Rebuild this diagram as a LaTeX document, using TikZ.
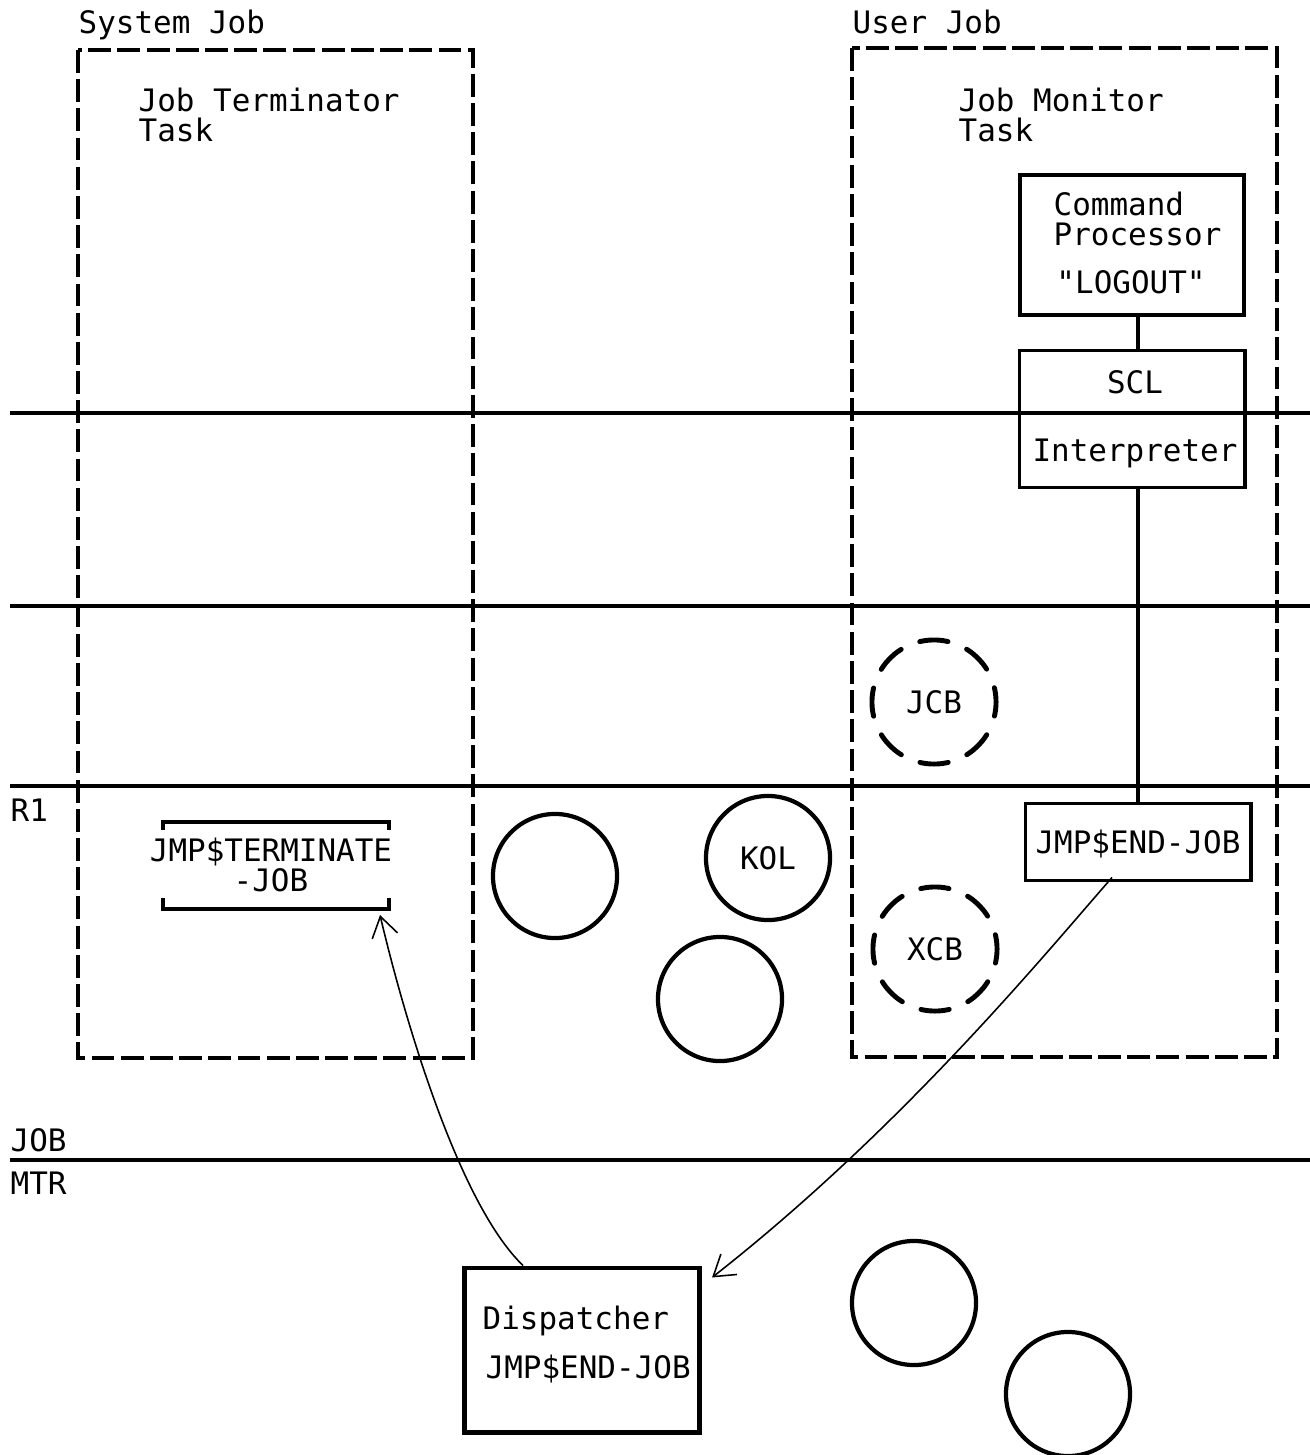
\documentclass[tikz,border=0pt]{standalone}
\usepackage{fontspec}
\newfontfamily\jobfont{DejaVu Sans Mono}
\usetikzlibrary{arrows.meta}

\tikzset{
  txt/.style={font=\jobfont\fontsize{8.8}{8.6}\selectfont, inner sep=0pt, text depth=0pt},
  jobframe/.style={line width=1.4pt, dash pattern=on 6.5pt off 1.8pt},
  level/.style={line width=1.1pt},
  procbox/.style={draw, txt, line width=1.1pt},
  cb/.style={draw, circle, txt, line width=1.2pt, minimum size=1.24cm},
  cbdash/.style={cb, line width=1.4pt, line cap=round, dash pattern=on 8.1pt off 5.75pt, dash phase=4pt},
  flow/.style={line width=0.45pt, -{Straight Barb[length=2mm, width=2.6mm]}}
}

\begin{document}
\begin{tikzpicture}[x=0.01cm, y=-0.01cm]
  \useasboundingbox (0,0) rectangle (1310,1455);

  % levels
  \foreach \yy in {413,606,786,1160}
    \draw[level] (10,\yy) -- (1310,\yy);
  \node[txt, anchor=west] (rone) at (10,810) {R1};
  \node[txt, anchor=west] (jobl) at (10,1140) {JOB};
  \node[txt, anchor=west] (mtrl) at (10,1183) {MTR};

  % system job
  \node[txt, anchor=west] (sysjob) at (78,22) {System Job};
  \draw[jobframe] (78,50) rectangle (473,1058);
  \node[txt, anchor=west, align=left] (termtask) at (138,115) {Job Terminator\\Task};
  \node[txt, align=center] (term) at (271,865) {JMP\$TERMINATE\\-JOB};
  \draw[line width=1.1pt] (163,830) -- (163,822) -- (389,822) -- (389,830);
  \draw[line width=1.1pt] (163,898) -- (163,909) -- (389,909) -- (389,898);
  \coordinate (termin) at (380,915);

  % user job
  \node[txt, anchor=west] (usrjob) at (852,22) {User Job};
  \draw[jobframe] (852,48) rectangle (1277,1057);
  \node[txt, anchor=west, align=left] (montask) at (958,115) {Job Monitor\\Task};

  \node[procbox, minimum width=2.24cm, minimum height=1.40cm] (cmdproc) at (1132,245) {};
  \node[txt, anchor=west, align=left] (cmdtxt) at (1053,219) {Command\\Processor};
  \node[txt] (logout) at (1131,282) {"LOGOUT"};

  \node[procbox, minimum width=2.25cm, minimum height=1.37cm] (scl) at (1132,419) {};
  \node[txt] (scltxt) at (1135,382) {SCL};
  \node[txt] (interp) at (1135,450) {Interpreter};

  \node[procbox, minimum width=2.25cm, minimum height=0.77cm] (endjob) at (1138,842) {JMP\$END-JOB};

  \draw[line width=0.9pt] (cmdproc.south -| endjob.north) -- (scl.north -| endjob.north);
  \draw[line width=0.9pt] (scl.south -| endjob.north) -- (endjob.north);

  \node[cbdash] (jcb) at (934,702) {JCB};
  \node[cbdash] (xcb) at (935,949) {XCB};

  % control blocks
  \node[cb] (cba) at (555,876) {};
  \node[cb] (kol) at (768,858) {KOL};
  \node[cb] (cbb) at (720,999) {};
  \node[cb] (cbc) at (914,1303) {};
  \node[cb] (cbd) at (1068,1394) {};

  % monitor
  \node[procbox, line width=1.4pt, minimum width=2.35cm, minimum height=1.64cm] (disp) at (582,1350) {};
  \node[txt, anchor=west] (disptxt) at (482,1318) {Dispatcher};
  \node[txt, anchor=west] (dispjob) at (485,1367) {JMP\$END-JOB};

  \draw[flow] ([shift={(-26,-5)}]endjob.south) .. controls (1040,960) and (900,1130) .. ([shift={(10,12)}]disp.north east);
  \draw[flow] ([shift={(-59,0)}]disp.north) .. controls (455,1200) and (400,1000) .. (termin);
\end{tikzpicture}
\end{document}
